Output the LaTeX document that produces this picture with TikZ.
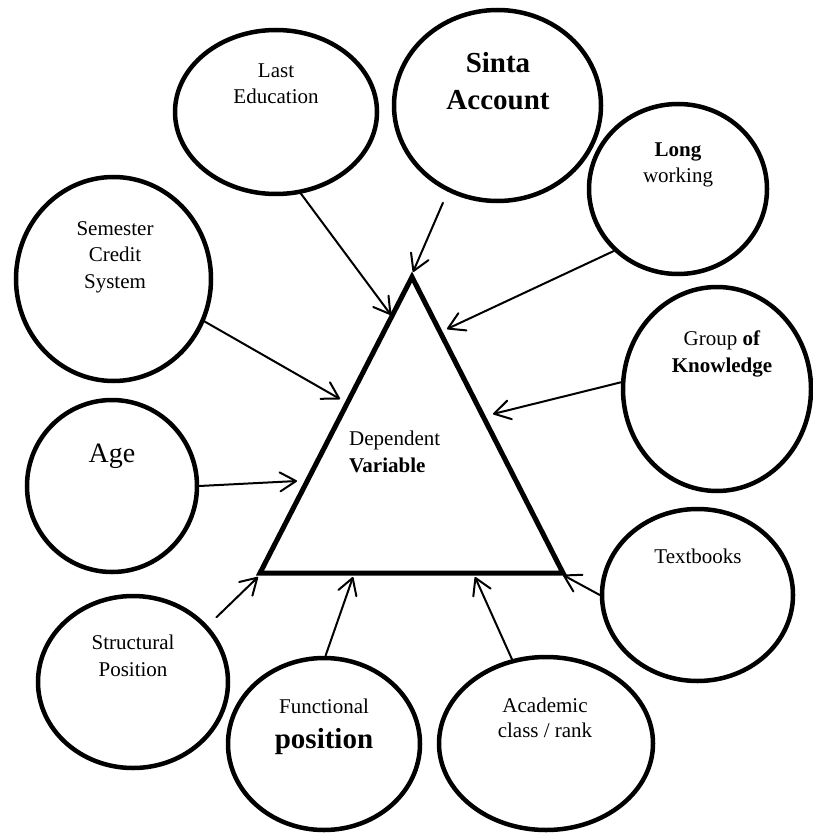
\documentclass[tikz,border=0pt]{standalone}
\usepackage{fontspec}
\setmainfont{Liberation Serif}
\usetikzlibrary{shapes.geometric,arrows.meta}
\begin{document}
\begin{tikzpicture}[x=1pt,y=-1pt,
  bubble/.style={ellipse,draw,line width=4.5pt,inner sep=0pt},
  lbl/.style={inner sep=0pt,anchor=base,align=center,font=\fontsize{21}{26.5}\selectfont},
  biglbl/.style={inner sep=0pt,anchor=base,align=center,font=\fontsize{29}{37}\selectfont},
  arr/.style={line width=2pt,line cap=round,-{Straight Barb[length=16pt,width=19pt,line cap=round,line join=round]}},
  tri/.style={line width=5pt,line join=miter}
  ]
\useasboundingbox (0,0) rectangle (812,834);
% bubbles
\node[bubble,minimum width=202pt,minimum height=164pt] (le) at (276,112) {};
\node[bubble,minimum width=207pt,minimum height=191pt] (si) at (497.5,105.5) {};
\node[bubble,minimum width=178pt,minimum height=170pt] (lo) at (678,189) {};
\node[bubble,minimum width=188pt,minimum height=204pt] (gr) at (717,389) {};
\node[bubble,minimum width=195pt,minimum height=204pt] (se) at (113.5,279) {};
\node[bubble,minimum width=170pt,minimum height=172pt] (ag) at (112,486) {};
\node[bubble,minimum width=190pt,minimum height=172pt] (st) at (133,682) {};
\node[bubble,minimum width=192pt,minimum height=172pt] (fu) at (324,744) {};
\node[bubble,minimum width=214pt,minimum height=173pt] (ac) at (546,743.5) {};
\node[bubble,minimum width=191pt,minimum height=172pt] (te) at (697.5,595) {};
% labels (base anchor = baseline of the last line)
\node[lbl] (leT) at (276,104) {Last\\Education};
\node[biglbl,font=\bfseries\fontsize{29}{37}\selectfont] (siT) at (498,110) {Sinta\\Account};
\node[lbl] (loT) at (678,183) {\textbf{Long}\\working};
\node[lbl] (grT) at (722,372) {Group \textbf{of}\\\textbf{Knowledge}};
\node[lbl] (seT) at (115,288) {Semester\\Credit\\System};
\node[lbl,font=\fontsize{28}{34}\selectfont] (agT) at (112,462) {Age};
\node[lbl] (stT) at (133,676) {Structural\\Position};
\node[lbl,font=\fontsize{21}{35}\selectfont] (fuT) at (324,748) {Functional\\{\bfseries\fontsize{29}{35}\selectfont position}};
\node[lbl,font=\fontsize{21}{25}\selectfont] (acT) at (545,737) {Academic\\class / rank};
\node[lbl] (teT) at (698,563) {Textbooks};
% triangle
\coordinate (A) at (412,277);
\coordinate (B) at (260,573);
\coordinate (C) at (563,573);
\draw[tri] (A) -- (B) -- (C) -- cycle;
\node[lbl,anchor=base west,align=left,font=\fontsize{21}{27}\selectfont] (dv) at (349,472) {Dependent\\\textbf{Variable}};
% arrow tips
\coordinate (tLE) at (391,315);
\coordinate (tSi) at (413,272);
\coordinate (tLo) at (447,329);
\coordinate (tGr) at (493,414);
\coordinate (tSe) at (340,399);
\coordinate (tAg) at (297,481);
\coordinate (tSt) at (258,577);
\coordinate (tFu) at (353,577);
\coordinate (tAc) at (475,577);
\coordinate (tTe) at (563,575);
% arrows
\draw[arr] (le.-73) -- (tLE);
\draw[arr,shorten <=12pt] (si.-120) -- (tSi);
\draw[arr] (lo.-136) -- (tLo);
\draw[arr] (gr.176) -- (tGr);
\draw[arr] (se.-25) -- (tSe);
\draw[arr] (ag.east) -- (tAg);
\draw[arr,shorten <=12pt] (st.37) -- (tSt);
\draw[arr] (fu.89) -- (tFu);
\draw[arr] (ac.112) -- (tAc);
\draw[arr] (te.west) -- (tTe);
\end{tikzpicture}
\end{document}
